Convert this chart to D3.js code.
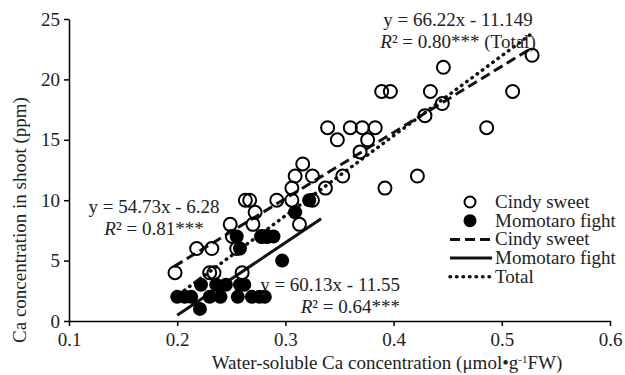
<!DOCTYPE html>
<html>
<head>
<meta charset="utf-8">
<script src="https://cdn.jsdelivr.net/npm/d3@7"></script>
<style>
  body { margin: 0; background: #fff; }
  text { font-family: "Liberation Serif", "Times New Roman", serif; fill: #222; }
</style>
</head>
<body>
<svg id="chart" width="625" height="375"></svg>
<script>
// Cindy sweet (open circles)
const cindyX = [0.198, 0.218, 0.232, 0.230, 0.234, 0.249, 0.251, 0.255, 0.260, 0.263,
  0.267, 0.272, 0.270, 0.278, 0.283, 0.292, 0.306, 0.306, 0.309, 0.316,
  0.325, 0.325, 0.337, 0.353, 0.392, 0.369, 0.348, 0.376, 0.339, 0.360,
  0.371, 0.383, 0.429, 0.445, 0.434, 0.389, 0.397, 0.510, 0.446, 0.528,
  0.486, 0.422, 0.313];
const cindyY = [4, 6, 6, 4, 4, 8, 7, 6, 4, 10,
  10, 9, 8, 7, 7, 10, 10, 11, 12, 13,
  10, 12, 11, 12, 11, 14, 15, 15, 16, 16,
  16, 16, 17, 18, 19, 19, 19, 19, 21, 22,
  16, 12, 8];

// Momotaro fight (filled circles)
const momoX = [0.200, 0.207, 0.213, 0.221, 0.222, 0.230, 0.236, 0.240, 0.245, 0.256,
  0.258, 0.262, 0.269, 0.276, 0.281, 0.255, 0.258, 0.278, 0.283, 0.289,
  0.297, 0.309, 0.322];
const momoY = [2, 2, 2, 1, 3, 2, 3, 2, 3, 2,
  3, 3, 2, 2, 2, 7, 6, 7, 7, 7,
  5, 9, 10];

// regression lines: slope, intercept, x range
const fitNames = ['Cindy sweet', 'Momotaro fight', 'Total'];
const fitSlope = [54.73, 60.13, 66.22];
const fitIntercept = [-6.28, -11.55, -11.149];
const fitFrom = [0.197, 0.2, 0.197];
const fitTo = [0.528, 0.333, 0.528];
const fitDash = ['10,5', null, '2,5'];

const xTicks = [0.1, 0.2, 0.3, 0.4, 0.5, 0.6];
const yTicks = [0, 5, 10, 15, 20, 25];

const svg = d3.select('#chart');
const x = d3.scaleLinear().domain([0.1, 0.6]).range([69, 610]);
const y = d3.scaleLinear().domain([0, 25]).range([321, 19]);
const fs = '19px';

// axes
const xAxis = svg.append('g')
  .attr('transform', `translate(0,${y(0)})`)
  .call(d3.axisBottom(x).tickValues(xTicks).tickSize(5).tickSizeOuter(0).tickFormat(d3.format('.1f')));
const yAxis = svg.append('g')
  .attr('transform', `translate(${x(0.1)},0)`)
  .call(d3.axisLeft(y).tickValues(yTicks).tickSize(5).tickSizeOuter(0));

[xAxis, yAxis].forEach(a => {
  a.selectAll('path, line').attr('stroke', '#000').attr('stroke-width', 1.5);
  a.selectAll('text').style('font-size', fs).attr('fill', '#222');
});
xAxis.selectAll('text').attr('dy', '0.92em');
yAxis.selectAll('text').attr('x', -9);

// axis titles
const xt = svg.append('text')
  .attr('x', 387).attr('y', 369)
  .attr('text-anchor', 'middle').style('font-size', fs)
  .text('Water-soluble Ca concentration (μmol•g');
xt.append('tspan').attr('dy', -6).style('font-size', '11px').text('-1');
xt.append('tspan').attr('dy', 6).text('FW)');

svg.append('text')
  .attr('transform', 'translate(26,220) rotate(-90)')
  .attr('text-anchor', 'middle').style('font-size', fs)
  .text('Ca concentration in shoot (ppm)');

// regression lines
fitSlope.forEach((s, i) => {
  const p = svg.append('line')
    .attr('x1', x(fitFrom[i])).attr('y1', y(s * fitFrom[i] + fitIntercept[i]))
    .attr('x2', x(fitTo[i])).attr('y2', y(s * fitTo[i] + fitIntercept[i]))
    .attr('stroke', '#111').attr('stroke-width', 3);
  if (fitDash[i]) p.attr('stroke-dasharray', fitDash[i]);
  if (i === 2) p.attr('stroke-linecap', 'round').attr('stroke-dasharray', '0.5,6').attr('stroke-width', 3.5);
});

// points
svg.append('g').selectAll('circle')
  .data(cindyX.map((v, i) => [v, cindyY[i]]))
  .join('circle')
  .attr('cx', d => x(d[0])).attr('cy', d => y(d[1]))
  .attr('r', 6.5).attr('fill', 'none').attr('stroke', '#000').attr('stroke-width', 2);

svg.append('g').selectAll('circle')
  .data(momoX.map((v, i) => [v, momoY[i]]))
  .join('circle')
  .attr('cx', d => x(d[0])).attr('cy', d => y(d[1]))
  .attr('r', 7).attr('fill', '#000');

// equations
function eq(cx, by, anchor, line1, r2text) {
  svg.append('text').attr('x', cx).attr('y', by)
    .attr('text-anchor', anchor).style('font-size', fs).text(line1);
  const t = svg.append('text').attr('x', cx).attr('y', by + 22)
    .attr('text-anchor', anchor).style('font-size', fs);
  t.append('tspan').style('font-style', 'italic').text('R');
  t.append('tspan').text('² = ' + r2text);
}
eq(458, 26, 'middle', 'y = 66.22x - 11.149', '0.80*** (Total)');
eq(154, 213, 'middle', 'y = 54.73x - 6.28', '0.81***');
eq(400, 291, 'end', 'y = 60.13x - 11.55', '0.64***');

// legend
const legendRows = ['Cindy sweet', 'Momotaro fight', 'Cindy sweet', 'Momotaro fight', 'Total'];
const lg = svg.append('g');
legendRows.forEach((name, i) => {
  const cy = 202 + i * 18.7;
  if (i === 0) lg.append('circle').attr('cx', 470).attr('cy', cy).attr('r', 5.5)
    .attr('fill', 'none').attr('stroke', '#000').attr('stroke-width', 2);
  else if (i === 1) lg.append('circle').attr('cx', 470).attr('cy', cy).attr('r', 6.5).attr('fill', '#000');
  else {
    const k = i - 2;
    const l = lg.append('line').attr('x1', 450).attr('x2', 492).attr('y1', cy).attr('y2', cy)
      .attr('stroke', '#111').attr('stroke-width', 3);
    if (k === 0) l.attr('stroke-dasharray', '10,5');
    if (k === 2) l.attr('stroke-linecap', 'round').attr('stroke-dasharray', '0.5,6').attr('stroke-width', 3.5);
  }
  lg.append('text').attr('x', 495).attr('y', cy + 6).style('font-size', fs).text(name);
});
</script>
</body>
</html>
